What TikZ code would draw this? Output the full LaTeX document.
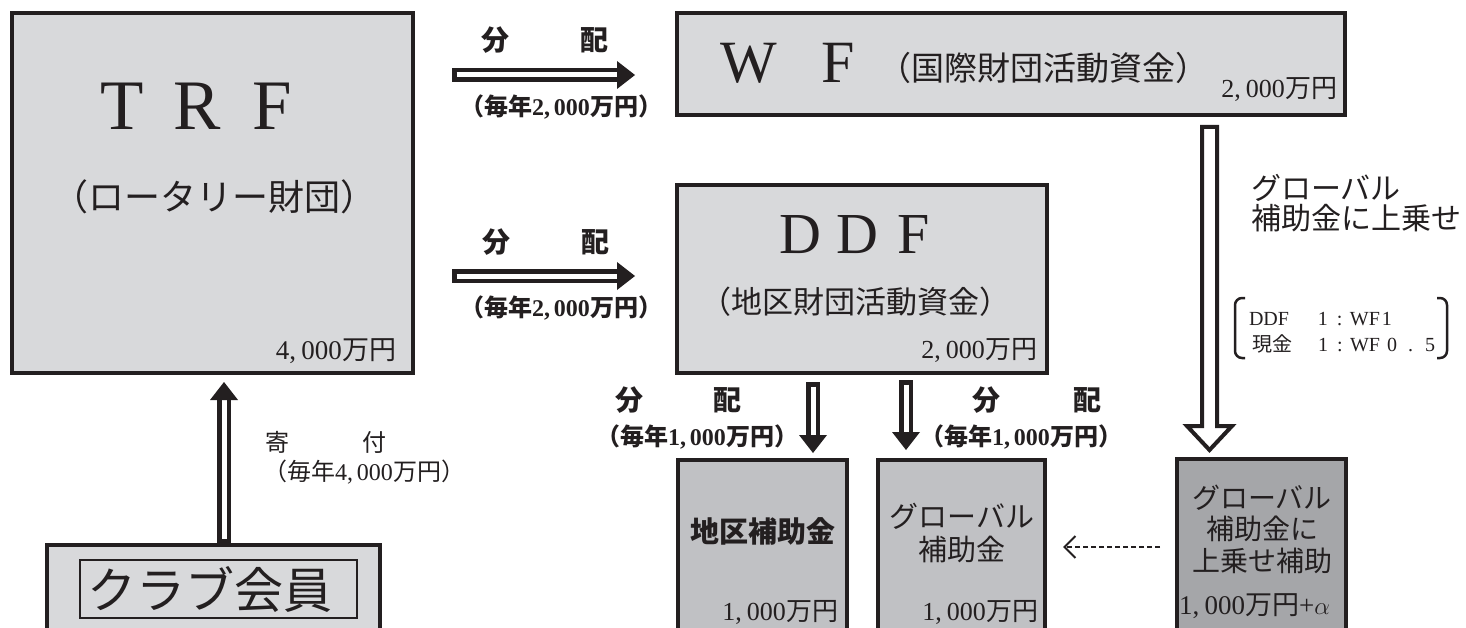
\documentclass[tikz,border=0pt]{standalone}
\usepackage{fontspec}
\setmainfont{Liberation Serif}
\newfontfamily\jp{Noto Sans CJK JP}
\usetikzlibrary{calc,arrows.meta}
\definecolor{lg}{HTML}{D8D9DB}
\definecolor{mg}{HTML}{C0C1C4}
\definecolor{dg}{HTML}{A5A6A9}
\definecolor{ink}{HTML}{231F20}
\newcommand\J[1]{{\jp #1}}
\newcommand\fsz[1]{\fontsize{#1pt}{#1pt}\selectfont}
\newcommand\dblarrow[2]{%
  \draw[ink, line width=14pt, shorten >=14pt] (#1) -- (#2);
  \draw[white, line width=5pt, shorten <=4.5pt, shorten >=14pt] (#1) -- (#2);
  \fill[ink] ($(#2)!18pt!(#1)!14pt!90:(#2)$) -- (#2) -- ($(#2)!18pt!(#1)!14pt!-90:(#2)$) -- cycle;
}
\tikzset{
  box/.style={draw=ink, line width=3.5pt, rectangle, inner sep=0pt, outer sep=0pt},
  txt/.style={inner sep=0pt, outer sep=0pt, text=ink},
}
\begin{document}
\begin{tikzpicture}[x=1pt,y=-1pt]
\useasboundingbox (0,0) rectangle (1466,628);
\fill[white] (0,0) rectangle (1466,628);
\clip (0,0) rectangle (1466,628);

% boxes
\node[box, fill=lg, minimum width=401pt, minimum height=360pt] (trf) at (212.5,193) {};
\node[box, fill=lg, minimum width=668pt, minimum height=102pt] (wf) at (1011,64) {};
\node[box, fill=lg, minimum width=370pt, minimum height=188pt] (ddf) at (862,279) {};
\node[box, fill=mg, minimum width=169pt, minimum height=180pt] (chiku) at (762.5,550) {};
\node[box, fill=mg, minimum width=167pt, minimum height=180pt] (glob) at (961.5,550) {};
\node[box, fill=dg, minimum width=169pt, minimum height=181pt] (ov) at (1261.5,549.5) {};
\node[box, fill=lg, minimum width=333pt, minimum height=95pt] (club) at (213.5,592.5) {};
\node[box, line width=2.5pt, minimum width=277pt, minimum height=58pt] (clubin) at (218.5,589) {};

% connector end points
\coordinate (a1s) at (452,75);  \coordinate (a1e) at (635,75);
\coordinate (a2s) at (452,276); \coordinate (a2e) at (635,276);
\coordinate (a3s) at (224,543); \coordinate (a3e) at (224,382);
\coordinate (a4s) at (813,382); \coordinate (a4e) at (813,453);
\coordinate (a5s) at (906,380); \coordinate (a5e) at (906,450);
\coordinate (ds) at (1160,547); \coordinate (de) at (1063,547);

\dblarrow{a1s}{a1e}
\dblarrow{a2s}{a2e}
\dblarrow{a3s}{a3e}
\dblarrow{a4s}{a4e}
\dblarrow{a5s}{a5e}

% big hollow arrow WF -> overlay
\draw[ink, line width=4pt, fill=white, line join=miter]
  (1202,127) -- (1202,426) -- (1187,426) -- (1209.5,450) -- (1232,426) -- (1217,426) -- (1217,127) -- cycle;

% dashed arrow
\draw[ink, line width=2pt, dash pattern=on 5pt off 3pt,
  -{Straight Barb[length=11pt,width=22pt,line width=2pt]}] (ds) -- (de);

% TRF texts
\node[txt] (trft) at (197,106.5) {\fsz{71}\makebox[75pt]{T}\makebox[75pt]{R}\makebox[75pt]{F}};
\node[txt] (trfs) at (214,197) {\fsz{36}\J{（ロータリー財団）}};
\node[txt, anchor=east] (trfa) at (396,351) {\fsz{27}4,\hspace{0.2em}000\J{万円}};

% WF texts
\node[txt] (wfw) at (749,63) {\fsz{60}W};
\node[txt] (wff) at (838,63) {\fsz{60}F};
\node[txt, anchor=west] (wfs) at (878,68) {\fsz{33}\J{（国際財団活動資金）}};
\node[txt, anchor=east] (wfa) at (1337,89) {\fsz{26}2,\hspace{0.2em}000\J{万円}};

% DDF texts
\node[txt] (ddft) at (857,235) {\fsz{58}\makebox[57pt]{D}\makebox[57pt]{D}\makebox[57pt]{F}};
\node[txt] (ddfs) at (855,302) {\fsz{31}\J{（地区財団活動資金）}};
\node[txt, anchor=east] (ddfa) at (1037,350) {\fsz{26}2,\hspace{0.2em}000\J{万円}};

% arrow labels
\node[txt] (l1a) at (545,40) {\fsz{28}\jp\bfseries 分\hspace{72pt}配};
\node[txt] (l1b) at (561,107) {\fsz{24}\bfseries\J{（毎年}2,\,000\J{万円）}};
\node[txt] (l2a) at (546,242) {\fsz{28}\jp\bfseries 分\hspace{72pt}配};
\node[txt] (l2b) at (561,308) {\fsz{24}\bfseries\J{（毎年}2,\,000\J{万円）}};
\node[txt] (l3a) at (678,400) {\fsz{28}\jp\bfseries 分\hspace{70pt}配};
\node[txt] (l3b) at (697,437) {\fsz{24}\bfseries\J{（毎年}1,\,000\J{万円）}};
\node[txt] (l4a) at (1037,400) {\fsz{28}\jp\bfseries 分\hspace{73pt}配};
\node[txt] (l4b) at (1021,437) {\fsz{24}\bfseries\J{（毎年}1,\,000\J{万円）}};
\node[txt] (k1) at (326,442) {\fsz{24}\jp 寄\hspace{73pt}付};
\node[txt, anchor=west] (k2) at (263,472) {\fsz{24}\J{（毎年}4,\,000\J{万円）}};

% lower boxes texts
\node[txt] (chikut) at (763,531) {\fsz{29}\jp\bfseries 地区補助金};
\node[txt, anchor=east] (chikua) at (838,612) {\fsz{26}1,\hspace{0.2em}000\J{万円}};
\node[txt, align=center, font={\fontsize{29pt}{33pt}\selectfont\jp}] (globt) at (962,533) {グローバル\\補助金};
\node[txt, anchor=east] (globa) at (1038,612) {\fsz{26}1,\hspace{0.2em}000\J{万円}};
\node[txt, align=center, font={\fontsize{28pt}{31.5pt}\selectfont\jp}] (ovt) at (1262,529) {グローバル\\補助金に\\上乗せ補助};
\node[txt, anchor=west] (ova) at (1179,606) {\fsz{27}1,\hspace{0.2em}000\J{万円}+$\alpha$};

% club
\node[txt] (clubt) at (210,590) {\fsz{49}\J{クラブ会員}};

% right side text
\node[txt, anchor=west, align=left, font={\fontsize{30pt}{30pt}\selectfont\jp}] (rt) at (1251,203) {グローバル\\補助金に上乗せ};
\node[txt, anchor=base west] (r1) at (1249,325) {\fsz{20}\makebox[69pt][l]{DDF}\makebox[19pt][l]{1}\makebox[13pt][l]{:}\makebox[32pt][l]{WF}1};
\node[txt, anchor=base west] (r2) at (1252,351) {\fsz{20}\makebox[66pt][l]{\jp 現金}\makebox[19pt][l]{1}\makebox[13pt][l]{:}\makebox[37pt][l]{WF}\makebox[21pt][l]{0}\makebox[17pt][l]{.}5};
\draw[ink, line width=2.5pt, rounded corners=7pt] (1245,298) -- (1235,298) -- (1235,358) -- (1245,358);
\draw[ink, line width=2.5pt, rounded corners=7pt] (1437,298) -- (1447,298) -- (1447,358) -- (1437,358);
\end{tikzpicture}
\end{document}
